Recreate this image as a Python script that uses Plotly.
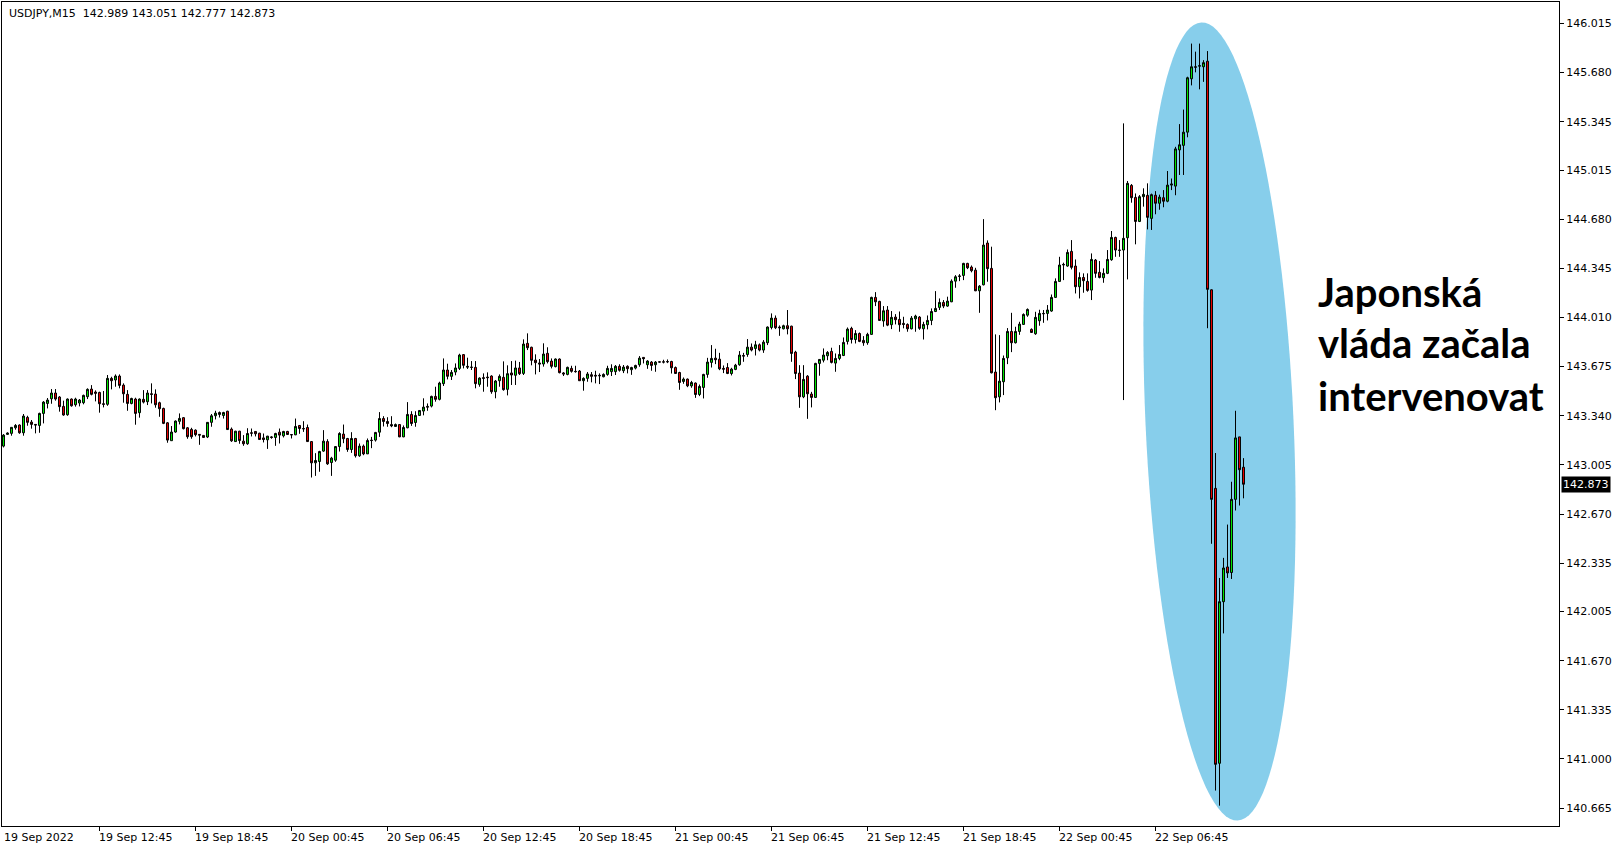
import math
import plotly.graph_objects as go

# ---------------- data (USDJPY M15, bars from 19 Sep 06:45) ----------------
opens = [
    143.133, 143.213, 143.220, 143.258, 143.277, 143.224, 143.329, 143.297, 143.281, 143.274,
    143.356, 143.424, 143.456, 143.495, 143.468, 143.404, 143.347, 143.454, 143.415, 143.427,
    143.429, 143.470, 143.522, 143.502, 143.499, 143.422, 143.418, 143.595, 143.584, 143.611,
    143.549, 143.486, 143.424, 143.454, 143.361, 143.452, 143.436, 143.490, 143.488, 143.429,
    143.390, 143.292, 143.170, 143.229, 143.302, 143.327, 143.258, 143.247, 143.242, 143.213,
    143.206, 143.195, 143.295, 143.340, 143.362, 143.342, 143.371, 143.249, 143.164, 143.235,
    143.167, 143.149, 143.224, 143.233, 143.221, 143.189, 143.176, 143.196, 143.192, 143.228,
    143.203, 143.233, 143.212, 143.210, 143.274, 143.253, 143.260, 143.164, 143.019, 143.028,
    143.099, 143.164, 143.021, 143.037, 143.130, 143.215, 143.185, 143.110, 143.185, 143.067,
    143.133, 143.080, 143.174, 143.174, 143.228, 143.321, 143.301, 143.280, 143.267, 143.280,
    143.196, 143.258, 143.349, 143.294, 143.342, 143.372, 143.404, 143.406, 143.472, 143.452,
    143.559, 143.652, 143.609, 143.638, 143.663, 143.757, 143.677, 143.672, 143.670, 143.554,
    143.600, 143.604, 143.611, 143.504, 143.579, 143.602, 143.520, 143.632, 143.616, 143.666,
    143.629, 143.834, 143.807, 143.720, 143.700, 143.693, 143.766, 143.713, 143.675, 143.727,
    143.632, 143.622, 143.663, 143.643, 143.645, 143.579, 143.595, 143.620, 143.616, 143.616,
    143.606, 143.622, 143.641, 143.641, 143.677, 143.647, 143.677, 143.654, 143.665, 143.688,
    143.738, 143.688, 143.706, 143.688, 143.708, 143.708, 143.710, 143.710, 143.669, 143.635,
    143.574, 143.590, 143.544, 143.563, 143.485, 143.533, 143.622, 143.704, 143.733, 143.726,
    143.663, 143.669, 143.628, 143.656, 143.688, 143.751, 143.758, 143.808, 143.799, 143.824,
    143.788, 143.838, 143.942, 144.006, 143.945, 143.933, 143.954, 143.951, 143.774, 143.631,
    143.469, 143.610, 143.488, 143.465, 143.697, 143.719, 143.749, 143.779, 143.699, 143.731,
    143.751, 143.847, 143.936, 143.860, 143.901, 143.854, 143.838, 143.895, 144.147, 144.120,
    143.986, 144.061, 143.961, 144.013, 143.997, 143.970, 143.963, 143.933, 144.001, 144.013,
    143.933, 143.961, 143.990, 144.051, 144.079, 144.113, 144.088, 144.117, 144.258, 144.290,
    144.297, 144.379, 144.354, 144.333, 144.192, 144.233, 144.518, 144.345, 143.638, 143.469,
    143.572, 143.735, 143.915, 143.838, 143.915, 143.963, 144.026, 143.929, 143.899, 143.988,
    144.038, 144.038, 144.054, 144.147, 144.256, 144.368, 144.361, 144.461, 144.361, 144.220,
    144.283, 144.256, 144.197, 144.402, 144.318, 144.281, 144.311, 144.404, 144.556, 144.470,
    144.470, 144.554, 144.911, 144.829, 144.665, 144.834, 144.843, 144.686, 144.844, 144.789,
    144.827, 144.803, 144.913, 144.906, 145.153, 145.184, 145.274, 145.638, 145.720, 145.724,
    145.720, 145.758, 144.199, 142.845, 140.970, 142.072, 142.309, 142.271, 142.770, 143.196,
    142.989,
]
highs = [
    143.215, 143.227, 143.263, 143.283, 143.281, 143.352, 143.340, 143.311, 143.283, 143.361,
    143.440, 143.461, 143.522, 143.522, 143.474, 143.443, 143.458, 143.458, 143.463, 143.454,
    143.484, 143.527, 143.549, 143.513, 143.504, 143.509, 143.618, 143.606, 143.622, 143.622,
    143.561, 143.515, 143.463, 143.463, 143.458, 143.515, 143.515, 143.561, 143.520, 143.436,
    143.395, 143.297, 143.270, 143.308, 143.356, 143.331, 143.263, 143.258, 143.247, 143.215,
    143.208, 143.297, 143.352, 143.374, 143.369, 143.367, 143.374, 143.260, 143.237, 143.237,
    143.208, 143.255, 143.253, 143.235, 143.224, 143.219, 143.203, 143.201, 143.224, 143.253,
    143.237, 143.237, 143.215, 143.321, 143.276, 143.303, 143.280, 143.167, 143.085, 143.101,
    143.242, 143.180, 143.060, 143.133, 143.228, 143.280, 143.189, 143.228, 143.189, 143.151,
    143.144, 143.185, 143.196, 143.230, 143.365, 143.337, 143.330, 143.337, 143.287, 143.283,
    143.274, 143.433, 143.371, 143.371, 143.378, 143.459, 143.424, 143.477, 143.538, 143.572,
    143.731, 143.695, 143.652, 143.697, 143.763, 143.761, 143.736, 143.713, 143.713, 143.602,
    143.629, 143.636, 143.616, 143.584, 143.622, 143.711, 143.684, 143.713, 143.716, 143.707,
    143.861, 143.902, 143.811, 143.759, 143.727, 143.834, 143.807, 143.731, 143.731, 143.731,
    143.638, 143.675, 143.681, 143.681, 143.652, 143.602, 143.638, 143.638, 143.647, 143.629,
    143.629, 143.681, 143.691, 143.686, 143.691, 143.686, 143.684, 143.674, 143.688, 143.747,
    143.740, 143.719, 143.713, 143.713, 143.710, 143.722, 143.724, 143.715, 143.676, 143.640,
    143.601, 143.594, 143.578, 143.567, 143.553, 143.626, 143.735, 143.822, 143.797, 143.769,
    143.683, 143.699, 143.667, 143.694, 143.781, 143.769, 143.863, 143.833, 143.851, 143.833,
    143.856, 143.949, 144.038, 144.024, 143.956, 143.961, 144.061, 143.954, 143.783, 143.685,
    143.685, 143.617, 143.503, 143.701, 143.726, 143.799, 143.781, 143.804, 143.765, 143.822,
    143.874, 143.942, 143.947, 143.924, 143.908, 143.883, 143.906, 144.152, 144.183, 144.124,
    144.088, 144.088, 144.054, 144.033, 144.051, 144.015, 143.970, 144.020, 144.029, 144.020,
    143.981, 144.024, 144.072, 144.190, 144.140, 144.129, 144.152, 144.270, 144.299, 144.306,
    144.383, 144.383, 144.365, 144.349, 144.231, 144.681, 144.536, 144.493, 143.895, 143.890,
    143.751, 143.938, 144.042, 143.947, 143.981, 144.038, 144.072, 143.936, 144.049, 144.063,
    144.061, 144.095, 144.167, 144.277, 144.424, 144.384, 144.474, 144.538, 144.406, 144.318,
    144.311, 144.311, 144.447, 144.409, 144.395, 144.345, 144.470, 144.600, 144.561, 144.538,
    145.334, 144.941, 144.920, 144.856, 144.845, 144.891, 144.925, 144.855, 144.872, 144.848,
    144.879, 145.009, 144.958, 145.174, 145.329, 145.428, 145.652, 145.878, 145.823, 145.878,
    145.765, 145.827, 144.202, 143.086, 142.234, 142.371, 142.598, 142.890, 143.374, 143.196,
    143.051,
]
lows = [
    143.124, 143.211, 143.204, 143.245, 143.217, 143.204, 143.272, 143.252, 143.220, 143.224,
    143.288, 143.390, 143.422, 143.443, 143.368, 143.340, 143.340, 143.402, 143.402, 143.404,
    143.418, 143.454, 143.479, 143.438, 143.361, 143.397, 143.408, 143.520, 143.538, 143.527,
    143.429, 143.374, 143.418, 143.279, 143.327, 143.424, 143.413, 143.424, 143.395, 143.333,
    143.283, 143.156, 143.170, 143.224, 143.281, 143.247, 143.183, 143.183, 143.199, 143.142,
    143.190, 143.188, 143.265, 143.315, 143.328, 143.321, 143.244, 143.162, 143.162, 143.149,
    143.135, 143.142, 143.199, 143.199, 143.176, 143.158, 143.114, 143.183, 143.135, 143.151,
    143.192, 143.210, 143.185, 143.208, 143.217, 143.230, 143.162, 142.919, 142.930, 142.958,
    143.094, 143.005, 142.930, 143.026, 143.096, 143.153, 143.094, 143.087, 143.055, 143.060,
    143.071, 143.080, 143.119, 143.164, 143.196, 143.267, 143.265, 143.262, 143.265, 143.194,
    143.194, 143.255, 143.271, 143.265, 143.340, 143.343, 143.374, 143.397, 143.436, 143.445,
    143.543, 143.588, 143.584, 143.616, 143.652, 143.663, 143.659, 143.652, 143.527, 143.538,
    143.504, 143.538, 143.490, 143.459, 143.538, 143.511, 143.479, 143.550, 143.550, 143.618,
    143.618, 143.788, 143.684, 143.622, 143.638, 143.675, 143.697, 143.663, 143.670, 143.629,
    143.611, 143.616, 143.634, 143.634, 143.577, 143.511, 143.572, 143.568, 143.561, 143.556,
    143.602, 143.613, 143.611, 143.618, 143.641, 143.631, 143.629, 143.619, 143.656, 143.674,
    143.697, 143.660, 143.647, 143.640, 143.704, 143.697, 143.699, 143.628, 143.626, 143.517,
    143.558, 143.535, 143.531, 143.462, 143.474, 143.458, 143.599, 143.669, 143.692, 143.651,
    143.631, 143.624, 143.615, 143.651, 143.681, 143.708, 143.742, 143.779, 143.751, 143.779,
    143.769, 143.822, 143.929, 143.931, 143.885, 143.929, 143.895, 143.708, 143.590, 143.394,
    143.460, 143.319, 143.397, 143.462, 143.613, 143.704, 143.719, 143.697, 143.640, 143.719,
    143.747, 143.826, 143.833, 143.833, 143.842, 143.817, 143.824, 143.892, 144.088, 143.988,
    143.947, 143.951, 143.931, 143.963, 143.913, 143.936, 143.913, 143.929, 143.913, 143.926,
    143.860, 143.929, 143.958, 144.047, 144.061, 144.074, 144.083, 144.115, 144.213, 144.258,
    144.265, 144.340, 144.318, 144.190, 144.042, 144.229, 144.254, 143.629, 143.378, 143.431,
    143.481, 143.692, 143.774, 143.833, 143.892, 143.961, 144.015, 143.906, 143.892, 143.954,
    143.974, 143.990, 144.049, 144.145, 144.254, 144.265, 144.356, 144.338, 144.174, 144.140,
    144.179, 144.186, 144.129, 144.281, 144.277, 144.247, 144.306, 144.397, 144.424, 144.424,
    143.447, 144.270, 144.793, 144.509, 144.661, 144.766, 144.611, 144.607, 144.714, 144.745,
    144.762, 144.796, 144.879, 144.844, 144.982, 144.982, 145.239, 145.593, 145.682, 145.566,
    145.617, 143.937, 142.467, 140.784, 140.681, 141.856, 142.234, 142.227, 142.694, 142.728,
    142.777,
]
closes = [
    143.208, 143.222, 143.261, 143.274, 143.224, 143.338, 143.295, 143.281, 143.277, 143.356,
    143.433, 143.447, 143.495, 143.454, 143.402, 143.345, 143.454, 143.408, 143.454, 143.447,
    143.479, 143.520, 143.486, 143.493, 143.422, 143.418, 143.595, 143.579, 143.611, 143.547,
    143.490, 143.424, 143.458, 143.356, 143.454, 143.433, 143.495, 143.486, 143.415, 143.388,
    143.288, 143.174, 143.229, 143.304, 143.322, 143.252, 143.197, 143.197, 143.211, 143.208,
    143.192, 143.295, 143.340, 143.358, 143.349, 143.362, 143.246, 143.169, 143.235, 143.171,
    143.149, 143.219, 143.221, 143.217, 143.178, 143.178, 143.201, 143.192, 143.219, 143.208,
    143.233, 143.212, 143.210, 143.267, 143.253, 143.251, 143.164, 143.019, 143.035, 143.096,
    143.167, 143.012, 143.051, 143.130, 143.219, 143.183, 143.110, 143.185, 143.067, 143.133,
    143.080, 143.171, 143.171, 143.226, 143.321, 143.301, 143.287, 143.271, 143.280, 143.196,
    143.260, 143.349, 143.287, 143.342, 143.376, 143.399, 143.399, 143.472, 143.452, 143.563,
    143.652, 143.609, 143.636, 143.666, 143.754, 143.684, 143.672, 143.670, 143.559, 143.597,
    143.595, 143.600, 143.504, 143.577, 143.609, 143.518, 143.627, 143.618, 143.666, 143.627,
    143.829, 143.804, 143.718, 143.702, 143.693, 143.761, 143.709, 143.677, 143.727, 143.634,
    143.625, 143.670, 143.643, 143.641, 143.579, 143.595, 143.625, 143.609, 143.611, 143.613,
    143.622, 143.663, 143.663, 143.677, 143.650, 143.672, 143.661, 143.669, 143.683, 143.733,
    143.729, 143.713, 143.683, 143.706, 143.706, 143.706, 143.708, 143.667, 143.628, 143.567,
    143.590, 143.544, 143.567, 143.485, 143.540, 143.622, 143.706, 143.731, 143.722, 143.660,
    143.658, 143.628, 143.658, 143.685, 143.754, 143.747, 143.808, 143.788, 143.824, 143.788,
    143.842, 143.945, 144.006, 143.940, 143.940, 143.954, 143.933, 143.765, 143.628, 143.469,
    143.588, 143.490, 143.465, 143.697, 143.724, 143.754, 143.772, 143.704, 143.731, 143.758,
    143.840, 143.931, 143.860, 143.901, 143.847, 143.838, 143.895, 144.147, 144.117, 143.990,
    144.056, 143.958, 144.011, 143.995, 143.961, 143.963, 143.933, 144.006, 144.020, 143.936,
    143.963, 143.990, 144.051, 144.072, 144.113, 144.088, 144.122, 144.258, 144.288, 144.293,
    144.379, 144.349, 144.329, 144.192, 144.224, 144.504, 144.343, 143.633, 143.463, 143.576,
    143.731, 143.915, 143.838, 143.915, 143.965, 144.031, 144.065, 143.908, 144.011, 144.038,
    144.036, 144.061, 144.147, 144.256, 144.368, 144.372, 144.454, 144.352, 144.220, 144.283,
    144.261, 144.195, 144.406, 144.311, 144.283, 144.311, 144.406, 144.556, 144.470, 144.468,
    144.550, 144.925, 144.827, 144.665, 144.834, 144.850, 144.693, 144.848, 144.789, 144.831,
    144.803, 144.913, 144.920, 145.160, 145.188, 145.274, 145.645, 145.720, 145.717, 145.727,
    145.748, 144.202, 142.770, 140.963, 142.072, 142.302, 142.268, 142.770, 143.189, 142.972,
    142.873,
]
bar_index = list(range(len(opens)))

price_ticks = [146.015, 145.680, 145.345, 145.015, 144.680, 144.345, 144.010, 143.675,
               143.340, 143.005, 142.670, 142.335, 142.005, 141.670, 141.335, 141.000, 140.665]
price_tick_text = ["146.015", "145.680", "145.345", "145.015", "144.680", "144.345", "144.010",
                   "143.675", "143.340", "143.005", "142.670", "142.335", "142.005", "141.670",
                   "141.335", "141.000", "140.665"]

time_tick_bars = [0, 24, 48, 72, 96, 120, 144, 168, 192, 216, 240, 264, 288]
time_tick_text = ["19 Sep 2022", "19 Sep 12:45", "19 Sep 18:45", "20 Sep 00:45", "20 Sep 06:45",
                  "20 Sep 12:45", "20 Sep 18:45", "21 Sep 00:45", "21 Sep 06:45", "21 Sep 12:45",
                  "21 Sep 18:45", "22 Sep 00:45", "22 Sep 06:45"]

symbol = "USDJPY,M15"
note_lines = ["Japonská", "vláda začala", "intervenovat"]

# ---------------- layout geometry ----------------
W, H = 1624, 850
ML, MR, MT, MB = 2, 65, 2, 24
PW, PH = W - ML - MR, H - MT - MB
FONT = "DejaVu Sans"


def px_to_paper(px, py):
    return (px - ML) / PW, (H - MB - py) / PH


fig = go.Figure()
fig.add_trace(go.Candlestick(
    x=bar_index, open=opens, high=highs, low=lows, close=closes,
    increasing=dict(fillcolor="#00F000", line=dict(color="#000000", width=1)),
    decreasing=dict(fillcolor="#F00000", line=dict(color="#000000", width=1)),
    whiskerwidth=0, showlegend=False, hoverinfo="x+y",
))

# highlight ellipse (slightly tilted)
cx, cy, a, b, th = 1219.5, 421.5, 399.5, 74.0, math.radians(2.6)
pts = []
for k in range(121):
    t = 2 * math.pi * k / 120
    px = cx + a * math.cos(t) * math.sin(th) + b * math.sin(t) * math.cos(th)
    py = cy + a * math.cos(t) * math.cos(th) - b * math.sin(t) * math.sin(th)
    pts.append(px_to_paper(px, py))
path = "M " + " L ".join(f"{x:.5f},{y:.5f}" for x, y in pts) + " Z"
fig.add_shape(type="path", path=path, xref="paper", yref="paper",
              fillcolor="#87CEEB", line=dict(width=0), layer="below")

annotations = []
# header
o, h, l, c = opens[-1], highs[-1], lows[-1], closes[-1]
annotations.append(dict(
    text=f"{symbol}\u00a0\u00a0{o:.3f} {h:.3f} {l:.3f} {c:.3f}",
    xref="paper", yref="paper", x=0, y=1, xanchor="left", yanchor="top",
    xshift=5, yshift=-3, showarrow=False, font=dict(family=FONT, size=11, color="#000000")))
# last price label
annotations.append(dict(
    text=f"{c:.3f}", xref="paper", yref="y", x=1, y=c, xanchor="left", yanchor="middle",
    xshift=2, showarrow=False, bgcolor="#000000", borderpad=1,
    font=dict(family=FONT, size=11, color="#FFFFFF")))
# time labels
for bar, txt in zip(time_tick_bars, time_tick_text):
    annotations.append(dict(
        text=txt, xref="x", yref="paper", x=bar, y=0, xanchor="left", yanchor="top",
        xshift=-2 if bar == 0 else -3, yshift=-3, showarrow=False,
        font=dict(family=FONT, size=11, color="#000000")))
# note text
for line, py in zip(note_lines, [292, 343, 396]):
    xp, yp = px_to_paper(1316, py)
    annotations.append(dict(
        text=f"<b>{line}</b>", xref="paper", yref="paper", x=xp, y=yp,
        xanchor="left", yanchor="middle", showarrow=False,
        font=dict(family="Lato", size=40, color="#000000")))

fig.update_layout(
    width=W, height=H, margin=dict(l=ML, r=MR, t=MT, b=MB),
    paper_bgcolor="#FFFFFF", plot_bgcolor="#FFFFFF",
    boxgap=0.3, showlegend=False,
    font=dict(family=FONT, size=11, color="#000000"),
    annotations=annotations,
    xaxis=dict(
        range=[(ML - 3.5) / 4, (ML + PW - 3.5) / 4], rangeslider=dict(visible=False),
        showgrid=False, zeroline=False, showline=True, mirror=True,
        linecolor="#000000", linewidth=1,
        tickmode="array", tickvals=time_tick_bars[1:], ticks="outside", ticklen=4,
        tickcolor="#000000", showticklabels=False, fixedrange=True,
    ),
    yaxis=dict(
        side="right",
        range=[146.015 - (H - MB - 23.5) / 146.64, 146.015 + (23.5 - MT) / 146.64],
        showgrid=False, zeroline=False, showline=True, mirror=True,
        linecolor="#000000", linewidth=1,
        tickmode="array", tickvals=price_ticks, ticktext=price_tick_text,
        ticks="outside", ticklen=4, tickcolor="#000000",
        tickfont=dict(family=FONT, size=11, color="#000000"), fixedrange=True,
    ),
)

fig.write_html("out.html", config={"displayModeBar": False},
               post_script="document.body.style.margin='0';document.body.style.overflow='hidden';")
